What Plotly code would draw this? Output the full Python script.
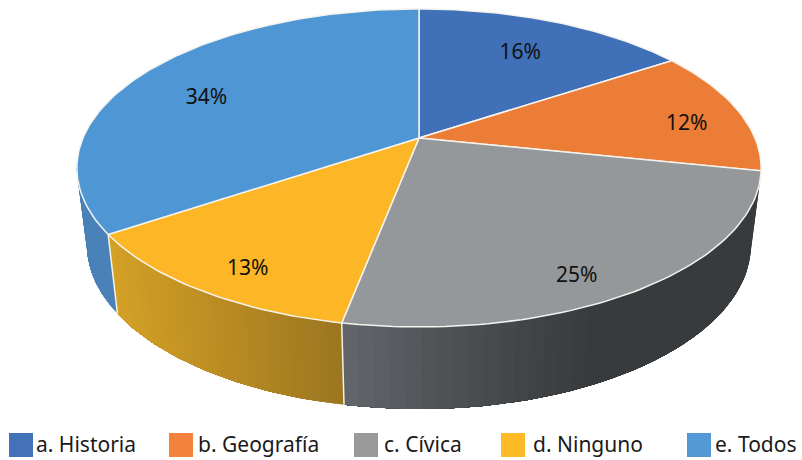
import math
import plotly.graph_objects as go

# ---- data ----
categories = ["a. Historia", "b. Geografía", "c. Cívica", "d. Ninguno", "e. Todos"]
percent_labels = ["16%", "12%", "25%", "13%", "34%"]
# slice shares (the printed labels are rounded)
values = [15.6, 12.7, 24.7, 12.5, 34.5]
top_colors = ["#4070b8", "#ec7d36", "#95989a", "#fdb726", "#4f96d4"]
swatch_colors = ["#4472b9", "#f3823c", "#999b9b", "#ffba27", "#5399d6"]
# wall shading: (colour at start angle, colour at end angle) going clockwise
wall_colors = [None, None, ((56, 59, 61), (99, 102, 106)),
               ((156, 117, 32), (212, 161, 38)), ((74, 130, 184), (74, 130, 184))]
label_r = [0.70, 0.83, 0.87, 0.83, 0.76]
label_nudge = [(2, 1), (2, 10), (-30, 10), (5, 9), (-1, 12)]
swatch_x = [21, 181, 366, 513, 699]
legend_text_x = [36, 198, 384, 533, 715]

# ---- projection: tilted disc seen in perspective ----
CX, TOP_CY, BOT_CY = 419, 138, 214
K = -0.1886
TOP_A, TOP_B = 336, 153.4
BOT_A, BOT_B = 326, 158.2
def project(theta, r, a, b, cy):
    u, v = r * math.sin(theta), -r * math.cos(theta)
    d = 1 + K * v
    return CX + a * u / d, cy + b * v / d
def top(t, r=1): return project(t, r, TOP_A, TOP_B, TOP_CY)
def bot(t): return project(t, 1, BOT_A, BOT_B, BOT_CY)

total = sum(values)
bounds = [0]
for val in values:
    bounds.append(bounds[-1] + val / total * 2 * math.pi)

sil = math.acos(K)            # silhouette angle where the wall becomes visible
sil_start, sil_end = sil, 2 * math.pi - sil

fig = go.Figure()
def poly(pts, fill, line_color=None, width=0.0, name=""):
    fig.add_trace(go.Scatter(x=[p[0] for p in pts], y=[p[1] for p in pts], mode="lines",
                             fill="toself", fillcolor=fill,
                             line=dict(color=line_color or fill, width=width),
                             showlegend=False, hoverinfo="skip", name=name))

# side wall: each strip runs to the end of its slice, so the next one paints over it
for i, cat in enumerate(categories):
    if wall_colors[i] is None:
        continue
    s, e = max(bounds[i], sil_start), min(bounds[i + 1], sil_end)
    c0, c1 = wall_colors[i]
    n = 40
    x_s, x_e = top(s)[0], top(e)[0]
    for j in range(n):
        a0 = s + (e - s) * j / n
        xm = top(a0 + (e - s) / (2 * n))[0]
        f = (xm - x_s) / (x_e - x_s)
        if i == 2:
            f = min(1, max(0, (f - 0.38) / 0.62)) ** 1.2
        col = "rgb(%d,%d,%d)" % tuple(round(c0[k] + (c1[k] - c0[k]) * f) for k in range(3))
        m = max(2, n - j)
        arc = [a0 + (e - a0) * q / m for q in range(m + 1)]
        poly([top(a) for a in arc] + [bot(a) for a in reversed(arc)], col, None, 0, cat)

# white seams on the wall
for b in bounds[3:5]:
    p, q = top(b), bot(b)
    fig.add_trace(go.Scatter(x=[p[0], q[0]], y=[p[1], q[1]], mode="lines",
                             line=dict(color="#f4f1e6", width=1.5),
                             showlegend=False, hoverinfo="skip"))

# top face
for i, cat in enumerate(categories):
    n = max(8, int(values[i] * 3))
    arc = [top(bounds[i] + (bounds[i + 1] - bounds[i]) * j / n) for j in range(n + 1)]
    poly([top(0, 0)] + arc + [top(0, 0)], top_colors[i], "#f5f3ee", 1.5, cat)

# percentage labels
for i, lab in enumerate(percent_labels):
    mid = (bounds[i] + bounds[i + 1]) / 2
    x, y = top(mid, label_r[i])
    fig.add_trace(go.Scatter(x=[x + label_nudge[i][0]], y=[y + label_nudge[i][1]], mode="text",
                             text=[lab], textposition="middle center",
                             textfont=dict(family="Noto Sans", size=21, color="#111111"),
                             showlegend=False, hoverinfo="skip"))

# legend row
LEG_Y = 445
for i, cat in enumerate(categories):
    fig.add_trace(go.Scatter(x=[swatch_x[i]], y=[LEG_Y], mode="markers",
                             marker=dict(symbol="square", size=24, color=swatch_colors[i]),
                             showlegend=False, hoverinfo="skip", name=cat))
    fig.add_trace(go.Scatter(x=[legend_text_x[i]], y=[LEG_Y + 2], mode="text", text=[cat],
                             textposition="middle right",
                             textfont=dict(family="Noto Sans", size=21, color="#1a1a1a"),
                             showlegend=False, hoverinfo="skip"))

fig.update_layout(width=802, height=460, margin=dict(l=0, r=0, t=0, b=0),
                  paper_bgcolor="white", plot_bgcolor="white", showlegend=False,
                  xaxis=dict(range=[0, 802], visible=False, fixedrange=True),
                  yaxis=dict(range=[460, 0], visible=False, fixedrange=True))
fig.write_html("out.html", config={"displayModeBar": False},
               post_script="document.body.style.margin='0';document.documentElement.style.overflow='hidden';")
